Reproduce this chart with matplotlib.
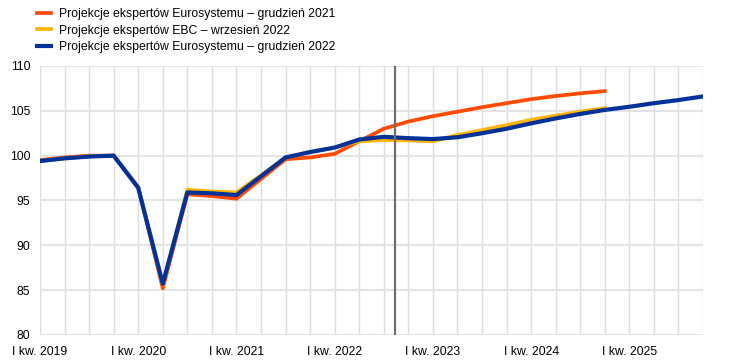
import matplotlib.pyplot as plt

plt.rcParams['font.family'] = ['Liberation Sans', 'DejaVu Sans']

# kwartały od I kw. 2019 do IV kw. 2025
quarters = list(range(28))
tick_pos = [0, 4, 8, 12, 16, 20, 24]
tick_labels = ['I kw. 2019', 'I kw. 2020', 'I kw. 2021', 'I kw. 2022',
               'I kw. 2023', 'I kw. 2024', 'I kw. 2025']

dec_2021 = [99.5, 99.8, 100.0, 100.0, 96.5, 85.2, 95.7, 95.5, 95.2, 97.4,
            99.6, 99.8, 100.2, 101.6, 103.0, 103.8, 104.4, 104.9, 105.4, 105.85,
            106.3, 106.65, 106.95, 107.2]
sep_2022 = [99.4, 99.7, 99.95, 100.0, 96.5, 85.6, 96.2, 96.0, 95.9, 97.8,
            99.8, 100.4, 100.9, 101.6, 101.75, 101.7, 101.6, 102.3, 102.85, 103.4,
            104.0, 104.45, 104.9, 105.3]
dec_2022 = [99.4, 99.7, 99.9, 100.0, 96.4, 85.7, 95.9, 95.8, 95.6, 97.7,
            99.8, 100.4, 100.9, 101.8, 102.1, 101.95, 101.85, 102.05, 102.5, 103.0,
            103.6, 104.15, 104.65, 105.1, 105.45, 105.85, 106.2, 106.6]
cutoff = 14.45

fig = plt.figure(figsize=(7.44, 3.64), dpi=100)
ax = fig.add_axes([0.0538, 0.0797, 0.891, 0.739])

ax.plot(quarters[:len(dec_2021)], dec_2021, color='#FF4B00', lw=2.7,
        label='Projekcje ekspertów Eurosystemu – grudzień 2021', zorder=3)
ax.plot(quarters[:len(sep_2022)], sep_2022, color='#FFB400', lw=2.7,
        label='Projekcje ekspertów EBC – wrzesień 2022', zorder=4)
ax.plot(quarters, dec_2022, color='#003299', lw=3,
        label='Projekcje ekspertów Eurosystemu – grudzień 2022', zorder=5)
ax.axvline(cutoff, color='#6E6E6E', lw=1.6, zorder=6)

ax.set_xlim(0, 27)
ax.set_ylim(80, 110)
ax.set_yticks(range(80, 111, 5))
ax.set_xticks(quarters, minor=True)
ax.set_xticks(tick_pos)
ax.set_xticklabels(tick_labels)
ax.grid(which='minor', axis='x', color='#DCDCDC', lw=1)
ax.grid(which='major', axis='x', color='#DCDCDC', lw=1)
ax.grid(which='major', axis='y', color='#E3E3E3', lw=1.5)
ax.tick_params(which='both', length=0, labelsize=8.8, colors='black')
ax.tick_params(axis='x', pad=8)
ax.tick_params(axis='y', pad=7)
for s in ax.spines.values():
    s.set_visible(False)

fig.legend(loc='upper left', bbox_to_anchor=(0.04, 0.997), frameon=False,
           fontsize=8.8, handlelength=1.1, handletextpad=0.7,
           labelspacing=0.35, borderaxespad=0.2)

fig.savefig('out.png', dpi=100)
